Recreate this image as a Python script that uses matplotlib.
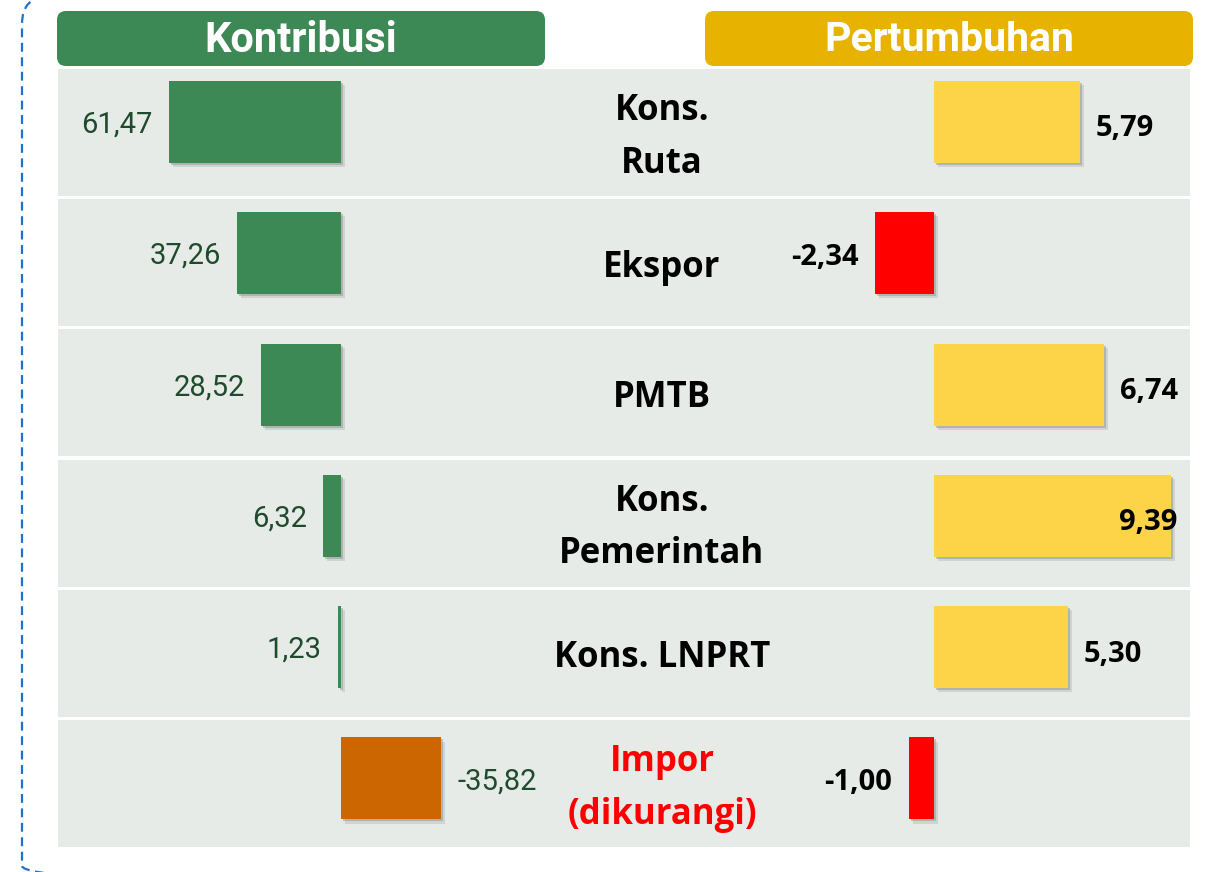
import matplotlib.pyplot as plt
import matplotlib.patheffects as pe
from matplotlib.patches import FancyBboxPatch, Rectangle

# data
categories = ["Kons.\nRuta", "Ekspor", "PMTB", "Kons.\nPemerintah", "Kons. LNPRT", "Impor\n(dikurangi)"]
kontribusi = [61.47, 37.26, 28.52, 6.32, 1.23, -35.82]
pertumbuhan = [5.79, -2.34, 6.74, 9.39, 5.30, -1.00]
panel_titles = ["Kontribusi", "Pertumbuhan"]

GREEN = "#3D8955"
ORANGE = "#CC6600"
YELLOW = "#FDD348"
GOLD = "#E8B200"
RED = "#FF0000"
ROW_BG = "#E7EBE8"
DARK_GREEN = "#1F4A2C"
BORDER = "#1F72C8"

NARROW = ["Liberation Sans Narrow", "Roboto", "DejaVu Sans"]
LABEL = ["Open Sans", "DejaVu Sans"]

W, H = 1224, 872
fig = plt.figure(figsize=(W / 100, H / 100), dpi=100)


def frac(x0, y0, x1, y1):
    # pixel box (top-left origin) -> figure fraction
    return [x0 / W, 1 - y1 / H, (x1 - x0) / W, (y1 - y0) / H]


def fmt(v):
    return f"{v:.2f}".replace(".", ",")


shadow = [pe.SimplePatchShadow(offset=(1.5, -1.5), shadow_rgbFace="#6f7570", alpha=0.35),
          pe.SimplePatchShadow(offset=(3, -3), shadow_rgbFace="#8a908b", alpha=0.25),
          pe.Normal()]

# background layer in pixel coords (y grows downwards)
bg = fig.add_axes([0, 0, 1, 1])
bg.set_xlim(0, W)
bg.set_ylim(H, 0)
bg.axis("off")

# dashed frame, clipped to the picture; only the left side and corners show
bg.add_patch(FancyBboxPatch((22, -4), 1240, 898, boxstyle="round,pad=0,rounding_size=28",
                            fill=False, ec=BORDER, lw=1.6, ls=(0, (4, 2.5))))

n = len(categories)
row_top, row_pitch, row_h = 69, 130.2, 127
for i, cat in enumerate(categories):
    y0 = row_top + i * row_pitch
    bg.add_patch(Rectangle((58, y0), 1132, row_h, color=ROW_BG, lw=0))
    bg.text(662, y0 + row_h / 2 + 5, cat, ha="center", va="center", fontsize=25,
            fontweight="bold", family=LABEL, linespacing=1.6,
            color=RED if kontribusi[i] < 0 else "black")

for (x0, x1), title, col, fs in zip([(57, 545), (705, 1193)], panel_titles, [GREEN, GOLD], [30, 29.5]):
    bg.add_patch(FancyBboxPatch((x0, 11), x1 - x0, 55, boxstyle="round,pad=0,rounding_size=9",
                                fc=col, ec="none"))
    bg.text((x0 + x1) / 2, 40, title, ha="center", va="center", fontsize=fs,
            fontweight="bold", family=NARROW, color="white")

# left panel: contribution, positive values run leftwards from x=341
ax_l = fig.add_axes(frac(58, 56.35, 560, 844))
ax_l.set_xlim((341 - 58) / 2.8, -(560 - 341) / 2.8)
ax_l.set_ylim(n - 0.5, -0.5)
ax_l.axis("off")
ax_l.patch.set_alpha(0)
bars = ax_l.barh(range(n), kontribusi, height=0.625,
                 color=[GREEN if v > 0 else ORANGE for v in kontribusi])
for b in bars:
    b.set_path_effects(shadow)
for i, v in enumerate(kontribusi):
    ax_l.annotate(fmt(v), xy=(v, i), xytext=(-11.5 if v > 0 else 11.5, -2),
                  textcoords="offset points", ha="right" if v > 0 else "left", va="center",
                  fontsize=21, family=NARROW, color=DARK_GREEN)

# right panel: growth, zero at x=934
ax_r = fig.add_axes(frac(700, 56.35, 1190, 844))
ax_r.set_xlim((700 - 934) / 25.2, (1190 - 934) / 25.2)
ax_r.set_ylim(n - 0.5, -0.5)
ax_r.axis("off")
ax_r.patch.set_alpha(0)
bars = ax_r.barh(range(n), pertumbuhan, height=0.625,
                 color=[YELLOW if v > 0 else RED for v in pertumbuhan])
for b in bars:
    b.set_path_effects(shadow)
vmax = max(pertumbuhan)
for i, v in enumerate(pertumbuhan):
    if v == vmax:
        off, ha = (4.5, -5), "right"
    elif v > 0:
        off, ha = (11.5, -5), "left"
    else:
        off, ha = (-12, -3), "right"
    ax_r.annotate(fmt(v), xy=(v, i), xytext=off, textcoords="offset points", ha=ha,
                  va="center", fontsize=21, fontweight="bold", family=LABEL, color="black")

fig.savefig("out.png", dpi=100)
